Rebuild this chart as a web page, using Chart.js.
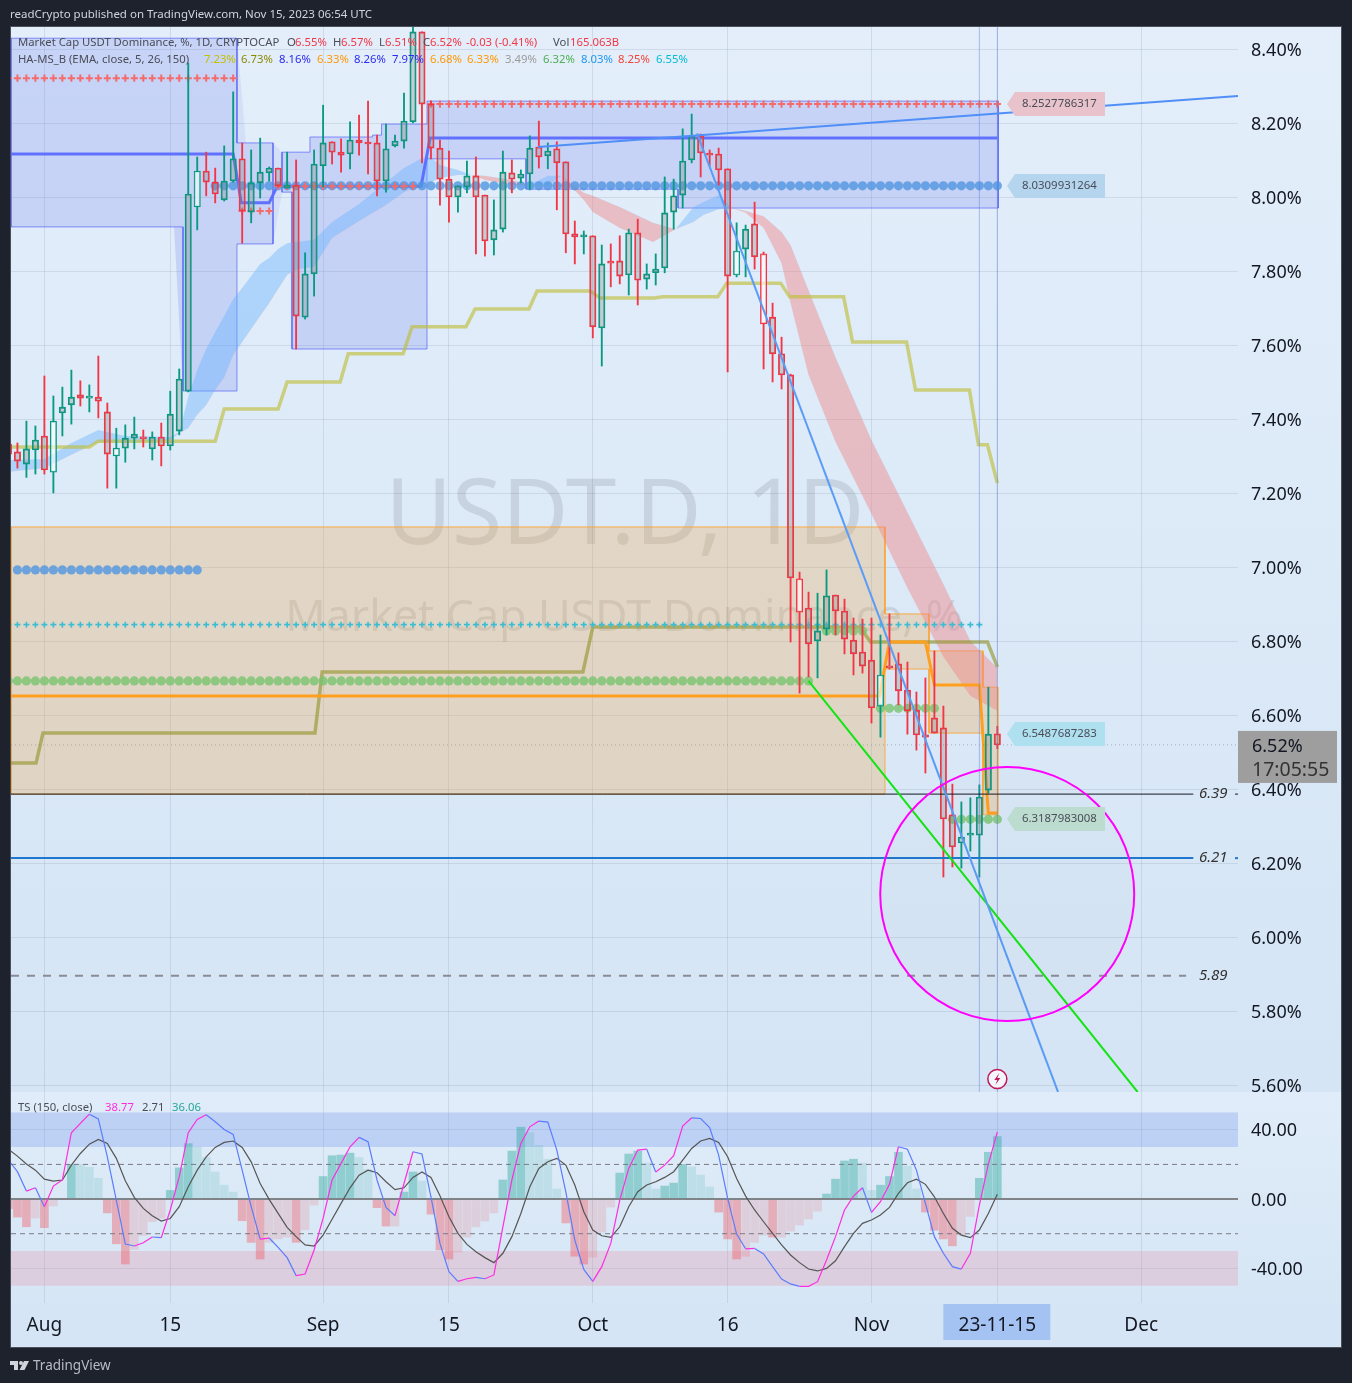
<!DOCTYPE html>
<html>
<head>
<meta charset="utf-8">
<title>USDT.D 1D</title>
<script src="https://cdn.jsdelivr.net/npm/chart.js@4"></script>
<style>
  html, body { margin: 0; padding: 0; background: #1e222d; }
  #wrap { position: relative; width: 1352px; height: 1383px; overflow: hidden; }
  canvas { display: block; }
  .t { position: absolute; white-space: pre; font-family: "Noto Sans", sans-serif; line-height: 1; }
</style>
</head>
<body>
<div id="wrap"><canvas id="chart" width="1352" height="1383"></canvas></div>
<script>
// x values are days counted from Aug 1 2023, first candle is day -4
const firstDay = -4;
const opens = [7.333,7.312,7.279,7.317,7.355,7.257,7.417,7.439,7.466,7.457,7.460,7.420,7.301,7.322,7.349,7.352,7.320,7.352,7.328,7.368,7.476,7.974,8.071,8.041,7.993,8.044,8.104,7.960,8.039,8.066,8.079,8.025,8.033,7.676,7.793,8.085,8.150,8.122,8.117,8.155,8.147,8.147,8.044,8.139,8.152,8.204,8.447,8.252,8.133,8.049,8.001,8.028,8.058,8.006,7.885,7.914,8.066,8.052,8.063,8.136,8.112,8.131,8.096,7.901,7.893,7.896,7.647,7.825,7.828,7.790,7.904,7.779,7.796,7.809,7.960,8.006,8.101,8.166,8.117,8.117,8.077,7.790,7.860,7.928,7.847,7.676,7.577,7.520,6.969,6.890,6.801,6.833,6.925,6.882,6.803,6.771,6.749,6.625,6.733,6.739,6.668,6.614,6.547,6.593,6.566,6.331,6.255,6.276,6.276,6.398,6.55];
const highs = [7.344,7.336,7.395,7.382,7.517,7.463,7.487,7.533,7.504,7.493,7.571,7.444,7.376,7.385,7.406,7.371,7.366,7.390,7.476,7.536,8.363,8.109,8.122,8.079,8.139,8.285,8.147,8.128,8.160,8.082,8.079,8.122,8.101,7.850,8.128,8.249,8.150,8.158,8.204,8.222,8.260,8.168,8.198,8.168,8.282,8.480,8.447,8.260,8.155,8.125,8.031,8.098,8.109,8.006,7.993,8.125,8.101,8.074,8.166,8.206,8.147,8.150,8.096,7.936,7.909,7.896,7.871,7.874,7.896,7.914,7.941,7.820,7.847,8.055,8.049,8.185,8.225,8.171,8.128,8.133,8.077,7.931,7.925,7.987,7.852,7.714,7.622,7.522,6.987,6.933,6.930,6.993,6.925,6.914,6.863,6.860,6.863,6.817,6.874,6.769,6.744,6.663,6.701,6.774,6.625,6.414,6.366,6.377,6.412,6.676,6.57];
const lows = [7.295,7.268,7.243,7.252,7.252,7.201,7.355,7.387,7.436,7.420,7.404,7.214,7.214,7.284,7.320,7.325,7.290,7.274,7.317,7.358,7.474,7.912,8.004,7.985,7.990,8.041,7.876,7.931,7.998,8.044,8.028,8.025,7.590,7.671,7.733,8.028,8.090,8.068,8.077,8.114,8.063,8.004,8.014,8.136,8.133,8.201,8.093,8.104,7.979,7.933,7.960,8.012,7.847,7.841,7.844,7.906,8.012,8.039,8.022,8.079,8.077,7.966,7.850,7.820,7.847,7.620,7.544,7.758,7.766,7.736,7.709,7.752,7.763,7.796,7.914,7.971,8.093,8.055,8.085,8.033,7.528,7.785,7.785,7.806,7.536,7.501,7.482,6.798,6.660,6.704,6.701,6.817,6.817,6.766,6.709,6.714,6.579,6.541,6.725,6.628,6.549,6.506,6.444,6.552,6.163,6.190,6.187,6.233,6.163,6.390,6.51];
const closes = [7.306,7.287,7.320,7.344,7.263,7.395,7.433,7.460,7.457,7.463,7.449,7.306,7.322,7.349,7.360,7.347,7.352,7.328,7.414,7.509,8.009,8.071,8.041,8.009,8.044,8.104,7.963,8.039,8.068,8.079,8.031,8.033,7.679,7.793,8.090,8.147,8.122,8.114,8.155,8.147,8.144,8.044,8.131,8.152,8.206,8.447,8.252,8.133,8.049,8.001,8.031,8.058,8.001,7.882,7.912,8.068,8.049,8.063,8.133,8.109,8.125,8.093,7.901,7.893,7.896,7.650,7.820,7.822,7.787,7.904,7.776,7.793,7.806,7.958,8.004,8.098,8.166,8.120,8.114,8.074,7.787,7.855,7.914,7.839,7.658,7.577,7.520,6.971,6.879,6.793,6.828,6.923,6.882,6.806,6.766,6.733,6.620,6.709,6.728,6.666,6.612,6.547,6.541,6.552,6.320,6.244,6.271,6.279,6.379,6.549,6.52];
const lightBodyDays = [1,8,17,77,80,84,93];

// TS pane, one value per candle
const tsHist = [-5.6,-10.4,-16,-11,-16.5,-4,-0.3,20,20,18.3,12,-8,-25.8,-37.5,-29,-21,-13,-11,5,18,32,30,24,15.6,8,4,-12.5,-25,-34.6,-25,-23,-22,-25,-17.7,-3.5,13,25,25.4,26.5,24,17,-5,-15.6,-15.6,4,15.6,10.4,-8.7,-29.4,-34.6,-30.6,-22,-16,-12.7,-8,11,27.7,41.5,38.3,31,23,5.8,-13.8,-33,-37.5,-33.5,-19,-4.6,15,26,27.7,20.8,5.8,7.5,9.2,20,18.5,13.8,7,-7.5,-23,-34.6,-33,-25,-20.8,-22,-22,-18.5,-15,-11.5,-7,2.9,11.5,22,23,20.8,5,8,13,27,19,5.8,-7.5,-18,-23,-27,-20.8,-10,12,27,36.06];
const tsLine = [22.5,15.8,4.6,6.5,-4.4,7.5,11,38.3,43.7,49,46.3,24.4,-0.6,-26,-27.1,-25.2,-21.9,-22.3,-6.3,12.9,38.3,46,48.7,44.6,40.2,37.3,16.7,-4.4,-23.1,-22.5,-27.9,-33.8,-44.2,-43.3,-29.4,-11.2,11,20.6,30.2,35.6,33.1,11,-4.8,-9.6,9,27.3,26,1.3,-25.6,-41.9,-47.5,-46,-45.2,-46,-43.8,-16,11,32.1,41.7,45,44.4,28.3,4.2,-23.7,-40.6,-47.5,-39,-25.6,-0.6,17.7,28.3,28.8,15.6,19.6,25,42.1,46.9,46.5,41.3,25.4,0.4,-20.2,-28.7,-28.5,-31.7,-39,-46.2,-49,-50.4,-50.4,-47.7,-35.2,-21.7,-6.3,1.7,6.5,-7.7,-1.5,8.5,30.2,28.8,16.7,-2.5,-21.7,-31.3,-39,-40.4,-31.3,-3.5,20.2,38.77];
const tsSignal = [28.7,24.8,20.2,16.7,11.5,10.4,11,19.6,26.3,31.7,34.4,32.1,23.5,10.6,1,-5.4,-9.6,-12.7,-11.2,-4.4,7.1,16.7,24.4,29.8,32.7,33.5,29.8,21.5,9,-0.2,-8.3,-16.3,-21.7,-26.5,-27.1,-20.8,-11.7,-2.5,6.5,13.8,16.7,15.2,10,5.4,6.5,12.5,15.6,12.5,1.9,-10.2,-19.8,-26.2,-30.4,-33.8,-36.7,-31.3,-21.7,-8.3,7.1,17.7,21.5,23.5,19.6,8.1,-7.3,-17.9,-21.2,-22.1,-16,-4.4,4.2,8.1,10,12.5,15.8,22.5,29.2,33.5,35,32.7,24.4,11.9,1.7,-6.3,-13.1,-19.8,-26.5,-32.3,-36.7,-40.4,-41.5,-40,-35.6,-27.5,-19.8,-14,-12.1,-9.2,-4.8,3.3,9.4,11.5,8.5,1.3,-8.3,-16.9,-20.8,-22.3,-17.9,-8.3,2.71];

// EMA ribbon
const ribbonDays = [-4,0,3,6,9,14,15,16,17,18,19,20,21,22,23,24,25,26,27,28,30,32,35,38,40,42,43,44,46,47.5,49,52,54,56,57.5,60,61,64,67.7,70.2,72.2,73.3,75,76.5,78,80,82,83,85,88,92,96,100,103,106];
const ribbonFast = [7.290,7.293,7.336,7.371,7.355,7.352,7.366,7.460,7.533,7.590,7.636,7.679,7.725,7.755,7.787,7.820,7.836,7.860,7.876,7.879,7.885,7.933,7.982,8.041,8.079,8.106,8.109,8.087,8.074,8.060,8.047,8.033,8.033,8.058,8.058,7.993,7.960,7.917,7.879,7.914,7.974,7.987,8.006,7.971,7.958,7.917,7.822,7.714,7.520,7.339,7.144,6.944,6.758,6.652,6.612];
const ribbonSlow = [7.258,7.268,7.304,7.339,7.336,7.344,7.363,7.376,7.412,7.439,7.479,7.514,7.574,7.609,7.644,7.679,7.714,7.752,7.790,7.804,7.812,7.890,7.936,7.979,8.014,8.033,8.041,8.052,8.060,8.060,8.058,8.047,8.033,8.031,8.058,8.012,8.004,7.974,7.931,7.914,7.933,7.952,7.968,7.971,7.963,7.949,7.906,7.871,7.749,7.568,7.344,7.149,6.955,6.801,6.728];

// stepped levels
const yellowDays = [-4,5,6,19,20,26,27,32.9,33.8,39.9,40.9,46.9,47.9,53.9,54.8,60.7,61.8,67.9,68.8,74.9,75.9,81.9,82.9,88.9,89.9,95.9,96.9,102.9,103.9,104.9,106];
const yellowLine = [7.325,7.325,7.341,7.341,7.428,7.428,7.501,7.501,7.577,7.577,7.65,7.65,7.698,7.698,7.747,7.747,7.728,7.728,7.731,7.731,7.768,7.768,7.731,7.731,7.609,7.609,7.479,7.479,7.331,7.331,7.228];
const oliveDays = [-4,-0.93,-0.16,30.1,30.9,59.9,61,90.7,91.9,104.9,106];
const oliveLine = [6.471,6.471,6.552,6.552,6.717,6.717,6.839,6.839,6.798,6.798,6.731];
const orangeDays = [-4,92.9,93.5,94,98,99,104,105,106];
const orangeLine = [6.652,6.652,6.733,6.798,6.798,6.682,6.682,6.336,6.336];
const blueDays = [-4,21,21.9,25,25.9,41.9,42.9,106];
const blueLine = [8.117,8.117,7.985,7.985,8.03,8.03,8.16,8.16];

// blue channel, two sections
const chanADays = [-3.715,15.42,15.42,21.42,21.42,25.43];
const chanAUpper = [8.43,8.43,8.43,8.43,8.147,8.147];
const chanALower = [7.92,7.92,7.4765,7.4765,7.874,7.874];
const chanBDays = [26.43,27.54,27.54,29.54,29.54,36.5,36.5,37.5,37.5,42.56,42.56,53.57,53.57,70.48,70.48,106.1];
const chanBUpper = [8.122,8.122,8.122,8.122,8.163,8.163,8.168,8.168,8.198,8.198,8.26,8.26,8.26,8.26,8.26,8.26];
const chanBLower = [8.014,8.014,7.59,7.59,7.59,7.59,7.59,7.59,7.59,7.59,8.104,8.104,8.022,8.022,7.971,7.971];
// soft fill wedges where the channel steps
const wedgeADays = [14.42,15.42];
const wedgeAUpper = [7.92,7.92];
const wedgeALower = [7.92,7.4765];
const wedgeBDays = [21.42,22.42];
const wedgeBUpper = [8.43,8.147];
const wedgeBLower = [8.147,8.147];
const wedgeCDays = [25.43,26.43];
const wedgeCUpper = [8.147,8.122];
const wedgeCLower = [7.874,8.014];
// orange channel
const zoneDays = [-3.715,93.5,93.5,98.4,98.4,104.4,104.4,106.05];
const zoneUpper = [7.109,7.109,6.874,6.874,6.774,6.774,6.676,6.676];
const zoneLower = [6.387,6.387,6.725,6.725,6.552,6.552,6.331,6.331];

// dotted pivots: from day, to day, price
const blueDotFrom = [-3,19];
const blueDotTo = [17,106];
const blueDotPrice = [6.993,8.031];
const redCrossFrom = [-4,22,26,43];
const redCrossTo = [21,25,41,106];
const redCrossPrice = [8.322,7.963,8.03,8.252];
const greenDotFrom = [-4,87,93,101];
const greenDotTo = [85,91,99,106];
const greenDotPrice = [6.693,6.828,6.619,6.319];
const cyanCrossFrom = [-4];
const cyanCrossTo = [104];
const cyanCrossPrice = [6.845];

// drawn lines
const riseDays = [54.9,132.77];
const riseLine = [8.136,8.274];
const fallDays = [72.6,112.75];
const fallLine = [8.173,5.582];
const greenTrendDays = [85,121.6];
const greenTrendLine = [6.693,5.582];

const priceTicks = [5.6,5.8,6.0,6.2,6.4,6.6,6.8,7.0,7.2,7.4,7.6,7.8,8.0,8.2,8.4];
const tsTicks = [-40,0,40];
const timeDays = [0,14,31,45,61,76,92,106,122];
const timeLabels = ['Aug','15','Sep','15','Oct','16','Nov','23-11-15','Dec'];

const hLevels = [6.387,6.214,5.896];
const hLevelText = ['6.39','6.21','5.89'];
const tagPrices = [8.2527786317,8.0309931264,6.5487687283,6.3187983008];
const tagColors = ['#e8c3cb','#b5d5ef','#aee0ef','#bcdcd0'];

const xMin = -3.715, xMax = 132.77;
const font = '"Noto Sans", sans-serif';

function pts(xs, ys) { return xs.map((x, i) => ({ x: x, y: ys[i] })); }
function dotted(from, to, price) {
  const out = [];
  from.forEach((f, i) => { for (let d = f; d <= to[i]; d++) out.push({ x: d, y: price[i] }); });
  return out;
}
function line(data, color, width, extra) {
  return Object.assign({ type: 'line', data: data, borderColor: color, borderWidth: width, pointRadius: 0,
    fill: false, tension: 0, xAxisID: 'x', yAxisID: 'y' }, extra || {});
}
function marks(data, style, radius, color, width) {
  return { type: 'line', data: data, showLine: false, pointStyle: style, pointRadius: radius, pointBorderWidth: width,
    pointBackgroundColor: color, pointBorderColor: color, xAxisID: 'x', yAxisID: 'y' };
}
function bars(data, yAxis, thick, extra) {
  return Object.assign({ type: 'bar', data: data, grouped: false, barPercentage: 1, categoryPercentage: 1,
    maxBarThickness: thick, borderWidth: 0, xAxisID: 'x', yAxisID: yAxis }, extra || {});
}
function channel(days, upper, lower, stroke, fillCol) {
  return [
    line(pts(days, upper), stroke, 1, { fill: { target: '+1' }, backgroundColor: fillCol }),
    line(pts(days, lower), stroke, 1),
    line(pts([days[0], days[0]], [upper[0], lower[0]]), stroke, 1),
    line(pts([days[days.length - 1], days[days.length - 1]], [upper[upper.length - 1], lower[lower.length - 1]]), stroke, 1)
  ];
}
function wedge(days, upper, lower, fillCol) {
  return [
    line(pts(days, upper), 'transparent', 0, { fill: { target: '+1' }, backgroundColor: fillCol }),
    line(pts(days, lower), 'transparent', 0)
  ];
}

const barDays = opens.map((_, i) => firstDay + i);
const candleColor = opens.map((o, i) => closes[i] >= o ? '#089981' : '#f23645');
const bodyFill = barDays.map(d => lightBodyDays.includes(d) ? 'rgba(255,255,255,0.6)' : 'rgba(128,128,128,0.3)');
const histColor = tsHist.map((v, i) => {
  const prev = i ? tsHist[i - 1] : 0;
  const strong = Math.abs(v) > Math.abs(prev) || v * prev < 0;
  if (v >= 0) return strong ? 'rgba(38,166,154,0.42)' : 'rgba(38,166,154,0.16)';
  return strong ? 'rgba(240,90,100,0.42)' : 'rgba(240,90,100,0.18)';
});

// first dataset in the list ends up on top
const datasets = [
  { type: 'bubble', data: [{ x: 107.1, y: 6.117, r: 127 }], borderColor: '#ff00ff', borderWidth: 2,
    backgroundColor: 'rgba(120,120,120,0.02)', xAxisID: 'x', yAxisID: 'y' },
  line(pts(fallDays, fallLine), '#5b9cf6', 2),
  line(pts(riseDays, riseLine), '#4f8ff7', 2),
  line(pts(greenTrendDays, greenTrendLine), '#14e414', 2),
  line(pts([xMin, 127.8], [hLevels[0], hLevels[0]]), '#131722', 1),
  line(pts([132.44, xMax], [hLevels[0], hLevels[0]]), '#131722', 1),
  line(pts([xMin, 127.8], [hLevels[1], hLevels[1]]), '#1e78d0', 2),
  line(pts([132.44, xMax], [hLevels[1], hLevels[1]]), '#1e78d0', 2),
  line(pts([xMin, 127], [hLevels[2], hLevels[2]]), '#8a8d96', 2, { borderDash: [8, 8] }),
  line(pts([xMin, xMax], [6.52, 6.52]), 'rgba(120,123,134,0.5)', 1, { borderDash: [1, 3] }),
  line(pts([104, 104], [5.582, 8.46]), 'rgba(90,120,220,0.45)', 1),
  line(pts([106, 106], [5.582, 8.46]), 'rgba(90,120,220,0.45)', 1),

  bars(barDays.map((d, i) => ({ x: d, y: [Math.max(opens[i], closes[i]), highs[i]] })), 'y', 1.2, { backgroundColor: candleColor }),
  bars(barDays.map((d, i) => ({ x: d, y: [lows[i], Math.min(opens[i], closes[i])] })), 'y', 1.2, { backgroundColor: candleColor }),
  bars(barDays.map((d, i) => ({ x: d, y: [opens[i], closes[i]] })), 'y', 6.4, { backgroundColor: bodyFill, borderColor: candleColor,
    borderWidth: 1.2, borderSkipped: false, minBarLength: 2 }),

  marks(dotted(redCrossFrom, redCrossTo, redCrossPrice), 'cross', 3.6, '#f56b6b', 2),
  marks(dotted(cyanCrossFrom, cyanCrossTo, cyanCrossPrice), 'cross', 3, '#3dbdd3', 1.6),
  marks(dotted(blueDotFrom, blueDotTo, blueDotPrice), 'circle', 4.6, 'rgba(80,150,225,0.8)', 0),
  marks(dotted(greenDotFrom, greenDotTo, greenDotPrice), 'circle', 4.6, 'rgba(120,195,110,0.8)', 0),

  line(pts(blueDays, blueLine), 'rgba(92,107,255,0.95)', 3),
  line(pts(orangeDays, orangeLine), '#ff9f1e', 3),
  line(pts(oliveDays, oliveLine), 'rgba(150,150,50,0.65)', 3.5),
  line(pts(yellowDays, yellowLine), 'rgba(190,190,60,0.65)', 3.5),

  line(pts(ribbonDays, ribbonFast), 'transparent', 0, { fill: { target: '+1', above: 'rgba(105,179,255,0.42)', below: 'rgba(242,132,132,0.45)' } }),
  line(pts(ribbonDays, ribbonSlow), 'transparent', 0),

  ...channel(chanADays, chanAUpper, chanALower, 'rgba(90,100,250,0.7)', 'rgba(90,110,235,0.2)'),
  ...channel(chanBDays, chanBUpper, chanBLower, 'rgba(90,100,250,0.7)', 'rgba(90,110,235,0.2)'),
  ...wedge(wedgeADays, wedgeAUpper, wedgeALower, 'rgba(90,110,235,0.2)'),
  ...wedge(wedgeBDays, wedgeBUpper, wedgeBLower, 'rgba(90,110,235,0.1)'),
  ...wedge(wedgeCDays, wedgeCUpper, wedgeCLower, 'rgba(90,110,235,0.1)'),
  ...channel(zoneDays, zoneUpper, zoneLower, 'rgba(255,160,40,0.85)', 'rgba(240,165,70,0.28)'),

  // TS pane
  line(pts(barDays, tsLine), '#ff2de0', 1.2, { yAxisID: 'y2', segment: {
    borderColor: c => c.p1.parsed.y >= c.p0.parsed.y ? '#ff2de0' : '#5b7cff' } }),
  line(pts(barDays, tsSignal), '#555', 1.2, { yAxisID: 'y2' }),
  line(pts([xMin, xMax], [0, 0]), '#808488', 2, { yAxisID: 'y2' }),
  line(pts([xMin, xMax], [20, 20]), '#787b86', 1, { yAxisID: 'y2', borderDash: [5, 4] }),
  line(pts([xMin, xMax], [-20, -20]), '#787b86', 1, { yAxisID: 'y2', borderDash: [5, 4] }),
  bars(barDays.map((d, i) => ({ x: d, y: [0, tsHist[i]] })), 'y2', 8, { backgroundColor: histColor }),
  line(pts([xMin, xMax], [50, 50]), 'transparent', 0, { yAxisID: 'y2', fill: { target: '+1' }, backgroundColor: 'rgba(90,130,235,0.25)' }),
  line(pts([xMin, xMax], [30, 30]), 'transparent', 0, { yAxisID: 'y2' }),
  line(pts([xMin, xMax], [-30, -30]), 'transparent', 0, { yAxisID: 'y2', fill: { target: '+1' }, backgroundColor: 'rgba(230,150,170,0.3)' }),
  line(pts([xMin, xMax], [-50, -50]), 'transparent', 0, { yAxisID: 'y2' })
];

const paintBack = {
  id: 'paintBack',
  beforeDraw(chart) {
    const c = chart.ctx;
    c.save();
    c.fillStyle = '#1e222d';
    c.fillRect(0, 0, 1352, 1383);
    let g = c.createLinearGradient(0, 27, 0, 1092);
    g.addColorStop(0, '#e3eefa');
    g.addColorStop(1, '#d5e5f5');
    c.fillStyle = g;
    c.fillRect(11, 27, 1330, 1065);
    g = c.createLinearGradient(0, 1092, 0, 1303);
    g.addColorStop(0, '#e0ecf9');
    g.addColorStop(1, '#d6e6f5');
    c.fillStyle = g;
    c.fillRect(11, 1092, 1330, 211);
    c.fillStyle = '#d5e5f5';
    c.fillRect(11, 1303, 1330, 44);
    c.strokeStyle = '#4a4f5c';
    c.strokeRect(10.5, 26.5, 1331, 1321);
    // selected date tag under the axis label
    const tx = chart.scales.x.getPixelForValue(106);
    c.fillStyle = '#a5c3f2';
    c.fillRect(tx - 54, 1304, 107, 36);
    c.restore();
  },
  beforeDatasetsDraw(chart) {
    const c = chart.ctx;
    c.save();
    c.textAlign = 'center';
    c.textBaseline = 'middle';
    c.fillStyle = 'rgba(70,70,80,0.14)';
    c.font = '91px ' + font;
    c.fillText('USDT.D, 1D', 625, 518);
    c.font = '44.6px ' + font;
    c.fillText('Market Cap USDT Dominance, %', 624, 618);
    c.restore();
  },
  afterDraw(chart) {
    const c = chart.ctx, ys = chart.scales.y;
    c.save();
    // italic level captions
    c.font = 'italic 15px ' + font;
    c.fillStyle = '#333';
    c.textBaseline = 'middle';
    c.textAlign = 'left';
    hLevelText.forEach((s, i) => c.fillText(s, 1199, ys.getPixelForValue(hLevels[i])));
    // value tags
    tagPrices.forEach((p, i) => {
      const y = Math.round(ys.getPixelForValue(p));
      c.fillStyle = tagColors[i];
      c.beginPath();
      c.moveTo(1007, y);
      c.lineTo(1015, y - 12);
      c.lineTo(1105, y - 12);
      c.lineTo(1105, y + 12);
      c.lineTo(1015, y + 12);
      c.closePath();
      c.fill();
      c.font = '11.4px ' + font;
      c.fillStyle = '#4a4d57';
      c.fillText(String(p), 1022, y);
    });
    // last price
    const ly = ys.getPixelForValue(6.52);
    c.fillStyle = '#9e9e9e';
    c.fillRect(1238, ly - 14, 99, 52);
    c.font = '18px ' + font;
    c.fillStyle = '#131722';
    c.fillText('6.52%', 1252, ly + 2);
    c.font = '19.5px ' + font;
    c.fillStyle = '#333';
    c.fillText('17:05:55', 1252, ly + 26);
    // alert icon
    const ix = chart.scales.x.getPixelForValue(106), iy = ys.getPixelForValue(5.617);
    c.beginPath();
    c.arc(ix, iy, 9.5, 0, Math.PI * 2);
    c.fillStyle = '#f3f6fb';
    c.fill();
    c.strokeStyle = '#c2185b';
    c.lineWidth = 1.5;
    c.stroke();
    c.fillStyle = '#c2185b';
    c.beginPath();
    c.moveTo(ix + 2, iy - 6);
    c.lineTo(ix - 3, iy + 1);
    c.lineTo(ix, iy + 1);
    c.lineTo(ix - 2, iy + 6);
    c.lineTo(ix + 3, iy - 1);
    c.lineTo(ix, iy - 1);
    c.closePath();
    c.fill();
    // logo
    c.fillStyle = '#d1d4dc';
    c.fillRect(10, 1361, 8, 4);
    c.fillRect(14, 1361, 4, 9);
    c.beginPath();
    c.arc(21, 1363, 2, 0, Math.PI * 2);
    c.fill();
    c.beginPath();
    c.moveTo(24, 1361);
    c.lineTo(29, 1361);
    c.lineTo(24.5, 1370);
    c.lineTo(19.5, 1370);
    c.closePath();
    c.fill();
    c.restore();
  }
};

new Chart(document.getElementById('chart'), {
  type: 'bar',
  data: { datasets: datasets },
  plugins: [paintBack],
  options: {
    responsive: false,
    animation: false,
    events: [],
    layout: { autoPadding: false, padding: { left: 11, top: 27, right: 0, bottom: 0 } },
    plugins: { legend: { display: false }, tooltip: { enabled: false } },
    scales: {
      x: {
        type: 'linear', position: 'bottom', min: xMin, max: xMax, offset: false,
        grid: { offset: false, color: 'rgba(100,120,140,0.16)', drawTicks: false },
        border: { display: false },
        afterBuildTicks: s => { s.ticks = timeDays.map(v => ({ value: v })); },
        afterFit: s => { s.height = 80; },
        ticks: { autoSkip: false, maxRotation: 0, padding: 11, color: '#131722', font: { family: font, size: 19 },
          callback: v => timeLabels[timeDays.indexOf(v)] }
      },
      y: {
        type: 'linear', position: 'right', stack: 'panes', stackWeight: 1065, min: 5.5819, max: 8.4603,
        grid: { color: 'rgba(100,120,140,0.16)', drawTicks: false },
        border: { display: false },
        afterBuildTicks: s => { s.ticks = priceTicks.map(v => ({ value: v })); },
        afterFit: s => { s.width = 114; },
        ticks: { padding: 13, labelOffset: 2, color: '#131722', font: { family: font, size: 18 }, callback: v => v.toFixed(2) + '%' }
      },
      y2: {
        type: 'linear', axis: 'y', position: 'right', stack: 'panes', stackWeight: 211, min: -60, max: 61.8,
        grid: { color: 'rgba(100,120,140,0.16)', drawTicks: false },
        border: { display: false },
        afterBuildTicks: s => { s.ticks = tsTicks.map(v => ({ value: v })); },
        afterFit: s => { s.width = 114; },
        ticks: { padding: 13, labelOffset: 1.5, color: '#131722', font: { family: font, size: 18 }, callback: v => v.toFixed(2) }
      }
    }
  }
});

// plain text overlays: header, indicator legends, footer
const wrap = document.getElementById('wrap');
function label(x, y, text, color, size) {
  const el = document.createElement('div');
  el.className = 't';
  el.textContent = text;
  el.style.left = x + 'px';
  el.style.top = (y - (size || 11.3) / 2) + 'px';
  el.style.color = color;
  el.style.fontSize = (size || 11.3) + 'px';
  wrap.appendChild(el);
}
label(10, 14, 'readCrypto published on TradingView.com, Nov 15, 2023 06:54 UTC', '#d1d4dc', 11.5);
label(18, 42, 'Market Cap USDT Dominance, %, 1D, CRYPTOCAP', '#4a4d57');
[['O', 287, '#4a4d57'], ['6.55%', 295, '#f23645'], ['H', 333, '#4a4d57'], ['6.57%', 341, '#f23645'], ['L', 379, '#4a4d57'], ['6.51%', 385, '#f23645'],
 ['C', 423, '#4a4d57'], ['6.52%', 430, '#f23645'], ['-0.03', 466, '#f23645'], ['(-0.41%)', 495, '#f23645'], ['Vol', 553, '#4a4d57'], ['165.063B', 570, '#f23645']]
  .forEach(t => label(t[1], 42, t[0], t[2]));
label(18, 59, 'HA-MS_B (EMA, close, 5, 26, 150)', '#4a4d57');
[['7.23%', 204, '#c3c000'], ['6.73%', 241, '#8a8a00'], ['8.16%', 279, '#2a2af0'], ['6.33%', 317, '#ff9800'], ['8.26%', 354, '#2a2af0'], ['7.97%', 392, '#2a2af0'],
 ['6.68%', 430, '#ff9800'], ['6.33%', 467, '#ff9800'], ['3.49%', 505, '#9a9a9a'], ['6.32%', 543, '#4caf50'], ['8.03%', 581, '#2196f3'], ['8.25%', 618, '#f44336'], ['6.55%', 656, '#00bcd4']]
  .forEach(t => label(t[1], 59, t[0], t[2]));
label(18, 1107, 'TS (150, close)', '#4a4d57');
label(105, 1107, '38.77', '#ff2de0');
label(142, 1107, '2.71', '#4a4d57');
label(172, 1107, '36.06', '#26a69a');
label(33, 1366, 'TradingView', '#b8bbc4', 13.5);
</script>
</body>
</html>
